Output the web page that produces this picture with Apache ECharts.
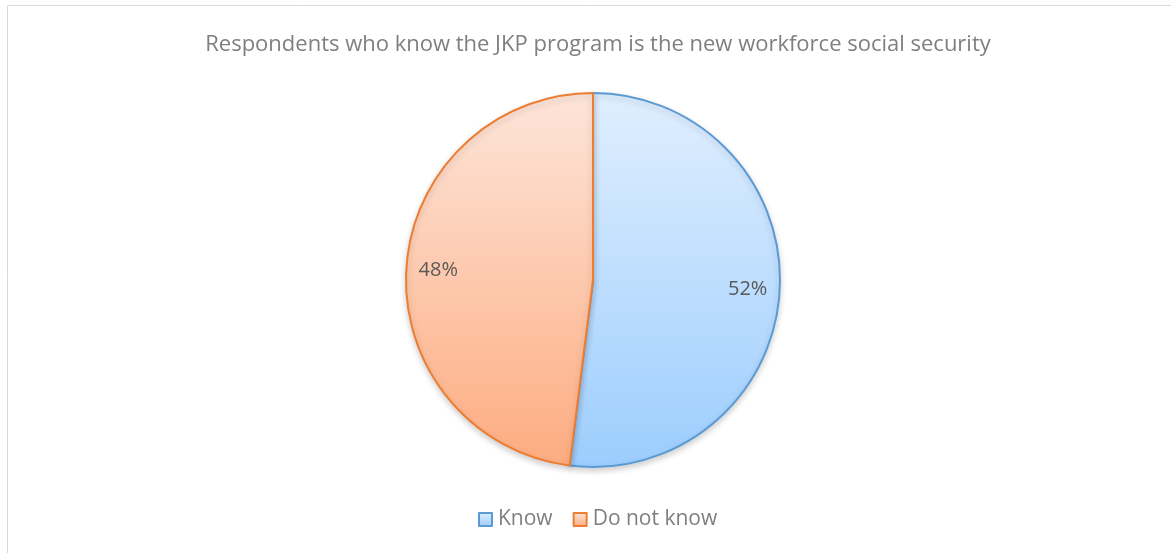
<!DOCTYPE html>
<html>
<head>
<meta charset="utf-8">
<script src="https://cdn.jsdelivr.net/npm/echarts@6/dist/echarts.min.js"></script>
<style>
  html, body { margin: 0; padding: 0; background: #fff; }
  #chart { width: 1171px; height: 553px; }
</style>
</head>
<body>
<div id="chart"></div>
<script>
var titleText = 'Respondents who know the JKP program is the new workforce social security';
var categories = ['Know', 'Do not know'];
var shares = [52, 48];

var fills = [
  ['#e0efff', '#9ccdfd'],
  ['#fde5da', '#fdac80']
];
var edges = ['#5b9bd5', '#ed7d31'];
var FONT = '"Open Sans", "Noto Sans", sans-serif';

var chart = echarts.init(document.getElementById('chart'));

var pieData = categories.map(function (name, i) {
  return {
    name: name,
    value: shares[i],
    itemStyle: {
      color: new echarts.graphic.LinearGradient(0, 0, 0, 1, [
        { offset: 0, color: fills[i][0] },
        { offset: 1, color: fills[i][1] }
      ]),
      borderColor: edges[i]
    }
  };
});

// transparent ring only used to place the percent labels further out
var labelData = categories.map(function (name, i) {
  return { name: name, value: shares[i] };
});

chart.setOption({
  animation: false,
  title: {
    text: titleText,
    left: 593,
    textAlign: 'center',
    top: 29,
    textStyle: { fontFamily: FONT, fontSize: 22, fontWeight: 'normal', color: '#7f7f7f' }
  },
  legend: {
    bottom: 18,
    left: 473,
    itemWidth: 13,
    itemHeight: 13,
    itemGap: 20,
    icon: 'rect',
    textStyle: { fontFamily: FONT, fontSize: 21, color: '#7f7f7f', padding: [0, 0, 0, 1] },
    data: categories
  },
  graphic: [{
    type: 'rect',
    shape: { x: 7.5, y: 5.5, width: 1190, height: 570 },
    style: { fill: 'none', stroke: '#d9d9d9', lineWidth: 1 },
    silent: true
  }],
  series: [{
    type: 'pie',
    center: [593, 280],
    radius: [0, 187],
    startAngle: 90,
    clockwise: true,
    label: { show: false },
    labelLine: { show: false },
    itemStyle: {
      borderWidth: 2,
      shadowBlur: 6,
      shadowOffsetY: 3,
      shadowColor: 'rgba(0,0,0,0.18)'
    },
    data: pieData
  }, {
    type: 'pie',
    center: [593, 280],
    radius: [118, 186],
    startAngle: 90,
    clockwise: true,
    silent: true,
    legendHoverLink: false,
    itemStyle: { color: 'rgba(0,0,0,0)', borderWidth: 0 },
    label: {
      show: true,
      position: 'inside',
      formatter: '{c}%',
      fontFamily: FONT,
      fontSize: 20,
      color: '#595959'
    },
    labelLine: { show: false },
    data: labelData
  }]
});
</script>
</body>
</html>
